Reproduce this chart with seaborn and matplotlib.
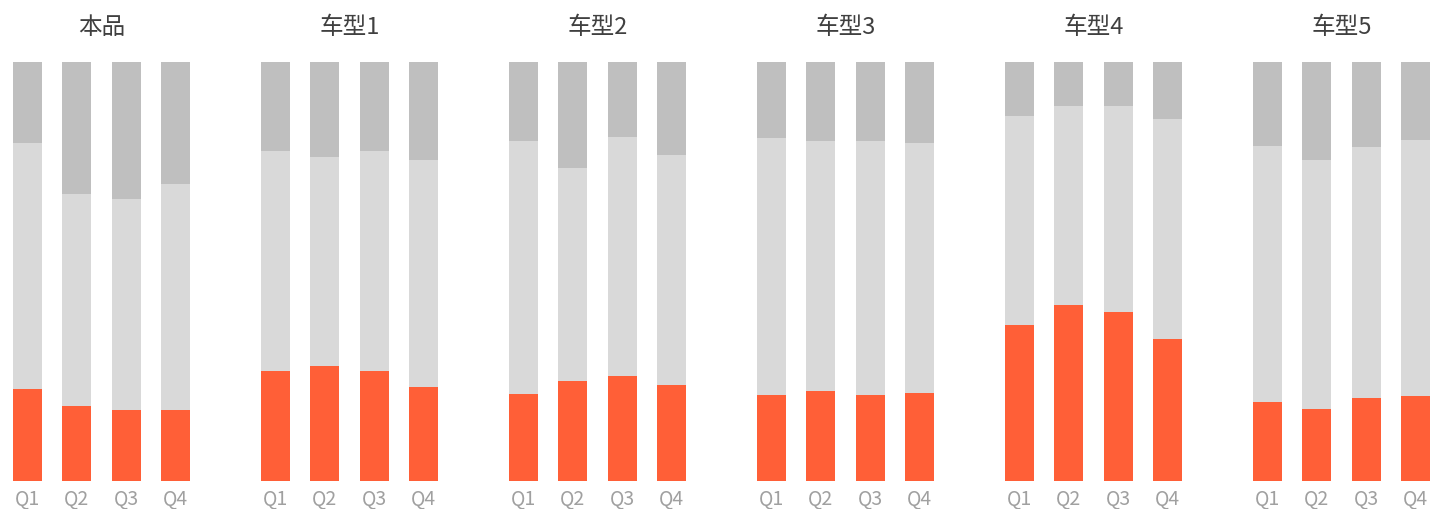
import numpy as np
import pandas as pd
import seaborn as sns
import matplotlib
matplotlib.use("Agg")
import matplotlib.pyplot as plt

sns.set_theme(style="white")
plt.rcParams['font.family'] = ['Noto Sans CJK SC', 'DejaVu Sans']

# datos (participacion por trimestre)
modelos = ["本品", "车型1", "车型2", "车型3", "车型4", "车型5"]
trimestres = ["Q1", "Q2", "Q3", "Q4"]

# parte naranja (abajo)
naranja = [
    [0.218, 0.179, 0.168, 0.168],
    [0.262, 0.274, 0.262, 0.225],
    [0.208, 0.238, 0.250, 0.229],
    [0.204, 0.215, 0.204, 0.210],
    [0.371, 0.419, 0.404, 0.338],
    [0.188, 0.171, 0.198, 0.202],
]
# parte gris claro (medio)
gris_claro = [
    [0.589, 0.506, 0.505, 0.541],
    [0.526, 0.500, 0.526, 0.541],
    [0.605, 0.509, 0.571, 0.549],
    [0.615, 0.597, 0.608, 0.597],
    [0.501, 0.477, 0.492, 0.526],
    [0.612, 0.595, 0.600, 0.612],
]

c_naranja = "#FF5F37"
c_claro = "#D9D9D9"
c_oscuro = "#BFBFBF"

W, H = 1431, 510
fig = plt.figure(figsize=(W / 100, H / 100), dpi=100)

ancho = 0.59
for i, modelo in enumerate(modelos):
    left = (12.7 + i * 248.0) / W
    ax = fig.add_axes([left, 28.3 / H, 177.5 / W, 418.4 / H])
    df = pd.DataFrame({
        "trimestre": trimestres,
        "naranja": naranja[i],
        "medio": np.array(naranja[i]) + np.array(gris_claro[i]),
    })
    # gris oscuro = resto hasta 100%
    df["total"] = 1.0
    sns.barplot(data=df, x="trimestre", y="total", color=c_oscuro, width=ancho,
                saturation=1, linewidth=0, ax=ax)
    sns.barplot(data=df, x="trimestre", y="medio", color=c_claro, width=ancho,
                saturation=1, linewidth=0, ax=ax)
    sns.barplot(data=df, x="trimestre", y="naranja", color=c_naranja, width=ancho,
                saturation=1, linewidth=0, ax=ax)
    ax.set_xlim(-ancho / 2, 3 + ancho / 2)
    ax.set_ylim(0, 1)
    ax.set_xlabel("")
    ax.set_ylabel("")
    ax.set_yticks([])
    sns.despine(ax=ax, left=True, bottom=True)
    ax.tick_params(axis="x", length=0, pad=5, labelsize=14, labelcolor="#A0A0A0")
    fig.text(left + 177.5 / W / 2, 1 - 28 / H, modelo, ha="center", va="center",
             fontsize=17, color="#404040")

fig.savefig("out.png", dpi=100)
